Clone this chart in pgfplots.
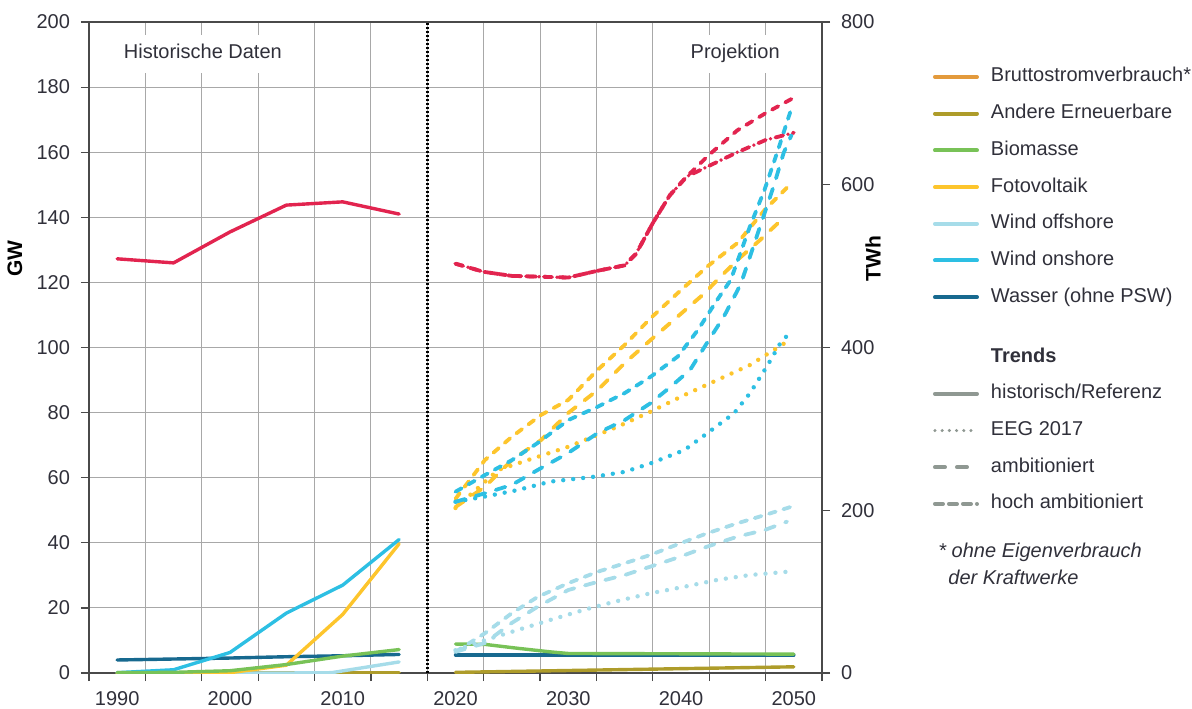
\documentclass[border=0pt]{standalone}
\usepackage{fontspec}
\setmainfont{Liberation Sans}
\usepackage{pgfplots}
\pgfplotsset{compat=1.18}
\definecolor{cRed}{HTML}{E2244F}
\definecolor{cYel}{HTML}{FDC52C}
\definecolor{cCyan}{HTML}{2DBFE3}
\definecolor{cLBlue}{HTML}{A6DCE9}
\definecolor{cDBlue}{HTML}{17698F}
\definecolor{cGreen}{HTML}{78C257}
\definecolor{cOlive}{HTML}{AE9C2A}
\definecolor{cOrange}{HTML}{E39A3C}
\definecolor{tgray}{HTML}{8F9892}
\definecolor{gridgray}{HTML}{A8A8A8}
\definecolor{axgray}{HTML}{4A4A4A}
\definecolor{txt}{HTML}{30303A}
\pgfplotsset{
  hist/.style={line width=1.7pt, line cap=round, line join=round},
  eeg/.style={line width=2.2pt, line cap=round, dash pattern=on 0pt off 5pt},
  amb/.style={line width=1.9pt, line cap=round, dash pattern=on 5pt off 5.5pt},
  hamb/.style={line width=1.9pt, line cap=round, dash pattern=on 3.5pt off 4pt},
  dd/.style={line width=1.9pt, line cap=round, dash pattern=on 4pt off 2.5pt on 0pt off 2.5pt},
}
\begin{document}
\fontsize{10}{12}\selectfont
\begin{tikzpicture}
\begin{axis}[
  scale only axis, width=366.5pt, height=325.5pt,
  xmin=1987.5, xmax=2052.5, ymin=0, ymax=200,
  axis line style={draw=axgray, line width=0.6pt},
  xtick={1987.5,1992.5,...,2052.5}, xticklabels={},
  extra x ticks={1990,2000,2010,2020,2030,2040,2050},
  extra x tick labels={1990,2000,2010,2020,2030,2040,2050},
  extra x tick style={major tick length=0pt, grid=none},
  xticklabel style={yshift=-5.5pt},
  ytick={0,20,...,200},
  yticklabel style={xshift=-2pt},
  xtick pos=bottom, ytick pos=left,
  grid=major, grid style={gridgray, line width=0.5pt},
  tick align=outside, major tick length=4pt,
  tick style={axgray, line width=0.6pt},
  tick label style={text=txt, /pgf/number format/assume math mode=true},
  ylabel={\textbf{GW}},
  ylabel style={at={(axis description cs:-0.101,0.637)}, anchor=center, text=black, font=\fontsize{10.5}{12}\selectfont},
  legend style={at={(axis description cs:1.1514,0.931)}, anchor=north west,
    draw=none, fill=none, inner sep=0pt, outer sep=0pt,
    row sep=8.35pt, column sep=6pt,
    nodes={inner sep=0pt, text height=7.5pt, text depth=2.5pt, text=txt},
    cells={anchor=west}},
  legend image code/.code={\draw[#1] (0pt,0pt) -- (21pt,0pt);},
]
% legend entries
\addlegendimage{line width=2pt, line cap=round, cOrange}
\addlegendentry{Bruttostromverbrauch*}
\addlegendimage{line width=2pt, line cap=round, cOlive}
\addlegendentry{Andere Erneuerbare}
\addlegendimage{line width=2pt, line cap=round, cGreen}
\addlegendentry{Biomasse}
\addlegendimage{line width=2pt, line cap=round, cYel}
\addlegendentry{Fotovoltaik}
\addlegendimage{line width=2pt, line cap=round, cLBlue}
\addlegendentry{Wind offshore}
\addlegendimage{line width=2pt, line cap=round, cCyan}
\addlegendentry{Wind onshore}
\addlegendimage{line width=2pt, line cap=round, cDBlue}
\addlegendentry{Wasser (ohne PSW)}
\addlegendimage{empty legend}
\addlegendentry[text height=3.3pt, text depth=0pt]{}
\addlegendimage{empty legend}
\addlegendentry{\textbf{Trends}}
\addlegendimage{line width=2pt, line cap=round, tgray}
\addlegendentry{historisch/Referenz}
\addlegendimage{line width=1.7pt, line cap=round, dash pattern=on 0pt off 3.6pt, tgray}
\addlegendentry{EEG 2017}
\addlegendimage{line width=2pt, line cap=round, dash pattern=on 5pt off 6pt, tgray}
\addlegendentry{ambitioniert}
\addlegendimage{line width=2pt, line cap=round, dash pattern=on 4pt off 3pt, tgray}
\addlegendentry{hoch ambitioniert}

% separator
\addplot[black, line width=1.4pt, dash pattern=on 1pt off 1pt, forget plot] coordinates {(2017.5,0) (2017.5,200)};

% ---------- historical ----------
\addplot[hist, cOlive, forget plot] coordinates {(1990,0.2) (1995,0.2) (2000,0.2) (2005,0.2) (2010,0.2) (2015,0.2)};
\addplot[hist, cLBlue, forget plot] coordinates {(1990,0) (1995,0) (2000,0) (2005,0) (2009,0.1) (2015,3.4)};
\addplot[hist, cDBlue, forget plot] coordinates {(1990,4.0) (1995,4.3) (2000,4.6) (2005,5.0) (2010,5.3) (2015,5.7)};
\addplot[hist, cCyan, forget plot] coordinates {(1990,0.1) (1995,1.0) (2000,6.3) (2005,18.4) (2010,27.0) (2015,41.0)};
\addplot[hist, cYel, forget plot] coordinates {(1990,0) (1995,0) (2000,0.1) (2005,2.4) (2010,18.0) (2015,39.7)};
\addplot[hist, cGreen, forget plot] coordinates {(1990,0.1) (1995,0.2) (2000,0.7) (2005,2.6) (2010,5.2) (2015,7.2)};

% ---------- projections ----------
\addplot[hist, cOlive, forget plot] coordinates {(2020,0.2) (2050,1.9)};
\addplot[hist, cDBlue, forget plot] coordinates {(2020,5.5) (2050,5.5)};
\addplot[hist, cGreen, forget plot] coordinates {(2020,8.9) (2022.6,8.8) (2025.5,7.6) (2028.4,6.5) (2030,6.0) (2050,5.8)};
% wind offshore
\addplot[eeg, cLBlue, forget plot] coordinates {(2020,7) (2022.6,10.1) (2025.5,13.2) (2028.4,16.3) (2031.4,19.4) (2034.1,21.9) (2037.3,24.5) (2040.3,26.5) (2043.2,28.6) (2046.1,30.1) (2049.4,31.1)};
\addplot[amb, cLBlue, forget plot] coordinates {(2020,6.5) (2022.6,9.2) (2025,15.4) (2027.3,20.4) (2030,25.5) (2032.6,28) (2035,30.1) (2037.3,32.7) (2039.9,35.7) (2042.3,38.8) (2045,41.9) (2047.4,43.9) (2049.4,46.5)};
\addplot[hamb, cLBlue, forget plot] coordinates {(2020,6.5) (2022.6,12.2) (2025,18.4) (2027.3,23.4) (2030,27.6) (2032.6,31.1) (2035,33.7) (2037.3,36.3) (2039.9,39.8) (2042.3,42.9) (2045,46) (2047.4,48.5) (2049.8,51.1)};
% fotovoltaik
\addplot[eeg, cYel, forget plot] coordinates {(2020,50.7) (2023.8,62.4) (2026.4,65.4) (2030,69.5) (2034.4,75.7) (2037.3,80.3) (2040.3,85.4) (2043.2,90) (2046.1,94.6) (2049.4,101.8)};
\addplot[amb, cYel, forget plot] coordinates {(2020,51) (2022.6,57.2) (2025,65.4) (2027.6,71.6) (2030,79.9) (2032.6,86.9) (2035,95.2) (2037.3,102.3) (2039.7,109.5) (2042.1,116.7) (2043.2,120.7) (2045,126.9) (2047,133) (2048.9,139.2)};
\addplot[hamb, cYel, forget plot] coordinates {(2020,53.5) (2022.6,65.4) (2025,72.6) (2027.6,79.3) (2030,83.9) (2032.6,93.1) (2035,100.8) (2037.3,109) (2039.7,116.7) (2042.3,124.8) (2045,132.1) (2047.4,142.2) (2049.8,150.5)};
% wind onshore
\addplot[eeg, cCyan, forget plot] coordinates {(2020,52.6) (2022.6,54.2) (2025.5,56.2) (2028.4,58.8) (2032.3,60.3) (2035,61.8) (2037.3,64.4) (2040.3,68.5) (2042.3,73.6) (2044.7,79.8) (2046.1,85.9) (2047.6,94.1) (2048.8,101.3) (2049.6,104.4)};
\addplot[amb, cCyan, forget plot] coordinates {(2020,52.6) (2022.6,55.2) (2025,57.8) (2027.3,62.4) (2030,67.6) (2032.6,73.7) (2035,77.7) (2037.3,82.9) (2039.1,88) (2040.8,93.1) (2042.3,101.4) (2043.8,109.5) (2045.3,119.5) (2047,137.1) (2048.2,149.4) (2049.1,159.8) (2049.8,165.3)};
\addplot[hamb, cCyan, forget plot] coordinates {(2020,55.7) (2022.6,60.8) (2025,65.4) (2027.3,70.7) (2030,77.7) (2032.6,81.8) (2035,86) (2037.3,91) (2039.7,97.2) (2041.5,105.4) (2043.2,114.6) (2044.4,120.7) (2046.1,137.1) (2047.4,148.4) (2048.6,160.7) (2049.8,173.6)};

% region labels
\node[fill=white, inner xsep=6pt, inner ysep=4.5pt, text height=7.5pt, text depth=2.5pt, text=txt] at (axis cs:1997.6,190.2) {Historische Daten};
\node[fill=white, inner xsep=6pt, inner ysep=4.5pt, text height=7.5pt, text depth=2.5pt, text=txt] at (axis cs:2044.8,190.2) {Projektion};
\end{axis}

\begin{axis}[
  scale only axis, width=366.5pt, height=325.5pt,
  xmin=1987.5, xmax=2052.5, ymin=0, ymax=800,
  axis x line=none, axis y line*=right,
  axis line style={draw=axgray, line width=0.6pt},
  ytick={0,200,...,800},
  tick align=outside, major tick length=4pt,
  tick style={axgray, line width=0.6pt},
  tick label style={text=txt, /pgf/number format/assume math mode=true},
  yticklabel style={xshift=2pt},
  ylabel={\textbf{TWh}},
  ylabel style={at={(axis description cs:1.0696,0.637)}, anchor=center, rotate=0, text=black, font=\fontsize{10.5}{12}\selectfont},
]
% Bruttostromverbrauch in TWh
\addplot[hist, cRed] coordinates {(1990,509) (1995,504) (2000,542) (2005,575) (2010,579) (2015,564)};
\addplot[hamb, cRed] coordinates {(2020,503) (2022.5,493) (2025,488) (2027.5,487) (2030,486) (2032.5,494) (2035,501) (2036,515) (2037.5,553) (2039,587) (2040.5,610) (2042.5,637) (2045,667) (2047.5,688) (2050,707)};
\addplot[dd, cRed] coordinates {(2020,503) (2022.5,493) (2025,488) (2027.5,487) (2030,486) (2032.5,494) (2035,501) (2036,515) (2037.5,553) (2039,587) (2040.5,610) (2042,620) (2045,640) (2047.5,655) (2050,664)};
\end{axis}
\node[anchor=north west, align=left, inner sep=0pt, text=txt, font=\itshape] at (424.5pt,65pt) {* ohne Eigenverbrauch\\[1.5pt]\hspace*{5pt}der Kraftwerke};
\pgfresetboundingbox
\path (-44.5pt,-17.5pt) rectangle (551.5pt,336.5pt);
\end{tikzpicture}
\end{document}
